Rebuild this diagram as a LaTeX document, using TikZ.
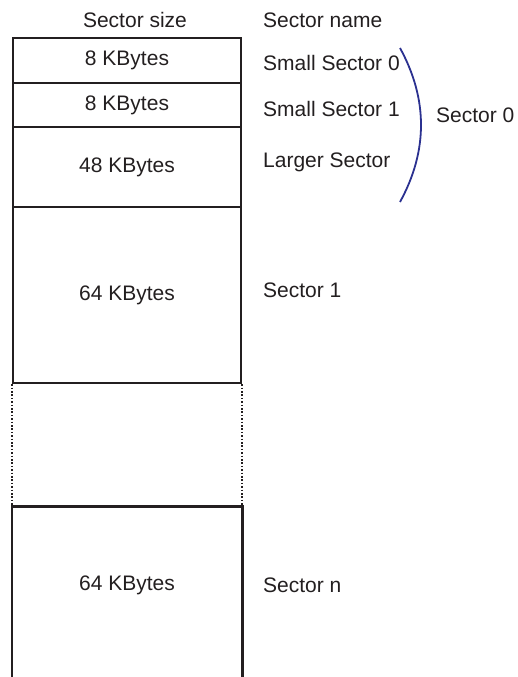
\documentclass[tikz,border=0pt]{standalone}
\usepackage{fontspec}
\setmainfont{Liberation Sans}
\usepackage{xcolor}
\usepackage{tikz}
\usetikzlibrary{calc}
\definecolor{ink}{HTML}{231F20}
\definecolor{navy}{HTML}{2B3190}
\tikzset{
  sect/.style={draw=ink, line width=2.5pt, minimum width=228pt, inner sep=0pt, text=ink},
  gap/.style={draw=ink, line width=2.2pt, dash pattern=on 1.6pt off 1.8pt},
  brace/.style={draw=navy, line width=1.8pt},
  lab/.style={text=ink, inner sep=0pt},
  secname/.style={lab, anchor=west},
}

\begin{document}
\begin{tikzpicture}[x=1pt, y=-1pt, font=\fontsize{21}{25}\selectfont]
  \useasboundingbox (0,0) rectangle (517,677);

  % sectors, top to bottom
  \node[sect, minimum height=45pt] (s0) at (127,60.5) {8 KBytes};
  \node[sect, minimum height=44pt] (s1) at (127,105) {8 KBytes};
  \node[sect, minimum height=80pt] (s2) at (127,167) {48 KBytes};
  \node[sect, minimum height=176pt] (s3) at (127,295) {64 KBytes};

  % gap and last sector (open at the bottom)
  \draw[gap] (s3.south west) -- ++(0,122);
  \draw[gap] (s3.south east) -- ++(0,122);
  \coordinate (nw) at ($(s3.south west)+(0,122)$);
  \coordinate (ne) at ($(s3.south east)+(0,122)$);
  \draw[draw=ink, line width=2.5pt] (nw |- 0,677) -- (nw) -- (ne) -- (ne |- 0,677);
  \node[lab] (sn) at (127,585) {64 KBytes};

  % headings
  \node[lab] (hsize) at (135,20) {Sector size};
  \node[secname] (hname) at (263,20) {Sector name};

  % sector names
  \node[secname] (n0) at (263,63) {Small Sector 0};
  \node[secname] (n1) at (263,109) {Small Sector 1};
  \node[secname] (n2) at (263,162) {Larger Sector};
  \node[secname] (n3) at (263,290) {Sector 1};
  \node[secname] (nn) at (263,585) {Sector n};

  % group bracket
  \coordinate (a0) at (400,48);
  \coordinate (a1) at (400,202);
  \draw[brace] (a0) .. controls (428,99) and (428,151) .. (a1);
  \node[secname] (g0) at (436,115) {Sector 0};
\end{tikzpicture}
\end{document}
